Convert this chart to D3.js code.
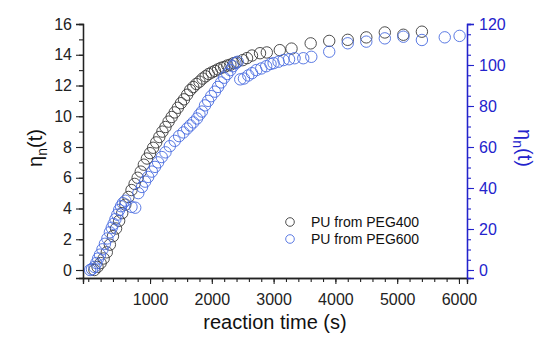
<!DOCTYPE html>
<html>
<head>
<meta charset="utf-8">
<script src="https://cdn.jsdelivr.net/npm/d3@7"></script>
<style>
  body { margin: 0; background: #fff; }
  svg { font-family: "Liberation Sans", Arial, sans-serif; }
</style>
</head>
<body>
<div id="chart"></div>
<script>
// PU from PEG400 (left axis)
const timeA = [100, 150, 200, 250, 300, 350, 400, 450, 500, 550, 600, 650, 700, 750, 800, 850, 900, 950,
  1000, 1050, 1100, 1150, 1200, 1250, 1300, 1350, 1400, 1450, 1500, 1550, 1600, 1650, 1700, 1750, 1800,
  1850, 1900, 1950, 2000, 2050, 2100, 2150, 2200, 2250, 2300, 2350, 2400, 2500, 2570, 2650, 2780, 2890,
  3100, 3290, 3600, 3900, 4200, 4500, 4800, 5100, 5400];
const valueA = [0.0, 0.2, 0.45, 0.75, 1.15, 1.65, 2.2, 2.7, 3.2, 3.7, 4.25, 4.75, 5.2, 5.6, 6.0, 6.4, 6.85, 7.25,
  7.6, 7.95, 8.3, 8.65, 9.0, 9.3, 9.65, 9.95, 10.25, 10.55, 10.85, 11.1, 11.4, 11.7, 11.9, 12.1, 12.25,
  12.45, 12.6, 12.75, 12.85, 12.95, 13.05, 13.15, 13.2, 13.3, 13.35, 13.45, 13.5, 13.65, 13.78, 13.95, 14.1, 14.15,
  14.3, 14.4, 14.74, 14.9, 14.97, 15.13, 15.45, 15.3, 15.5];

// PU from PEG600 (right axis)
const timeB = [30, 60, 100, 130, 160, 190, 230, 270, 310, 350, 380, 410, 440, 470, 500, 530, 560, 600,
  700, 760, 810, 870, 920, 970, 1030, 1080, 1130, 1190, 1250, 1320, 1400, 1470, 1540, 1600, 1650, 1700,
  1760, 1800, 1840, 1890, 1940, 1990, 2050, 2100, 2150, 2200, 2250, 2300, 2340, 2380, 2420, 2460, 2520,
  2590, 2650, 2720, 2800, 2880, 2950, 3000, 3080, 3160, 3250, 3340, 3480, 3610, 3900, 4200, 4500, 4800,
  5100, 5400, 5770, 6010];
const valueB = [0, 0.4, 1.5, 3.4, 5.6, 7.5, 10.1, 12.8, 15.4, 18.4, 20.6, 22.5, 24.8, 27, 29.3, 31.1, 32.6, 33.8,
  30.8, 30.4, 37.5, 40.5, 43.1, 45.4, 48, 50.3, 52.5, 55.1, 57.4, 60.4, 63, 65.3, 67.1, 69, 70.5, 72,
  73.9, 75.8, 77.3, 80.3, 82.5, 84.8, 87, 89.3, 91.5, 93.8, 95.6, 97.5, 99.4, 100.9, 101.6, 93, 93.4,
  94.9, 96, 97.5, 98.3, 99.4, 100.5, 100.9, 101.6, 102.4, 102.8, 103.3, 103.3, 104, 106.5, 110.6, 111.4, 113,
  113.8, 112.2, 113.5, 114.2];

const seriesNames = ['PU from PEG400', 'PU from PEG600'];
const xMajor = [1000, 2000, 3000, 4000, 5000, 6000];
const leftMajor = [0, 2, 4, 6, 8, 10, 12, 14, 16];
const rightMajor = [0, 20, 40, 60, 80, 100, 120];

const width = 550, height = 342;
const colA = '#3a3a3a', colB = '#4a6ce0', axisBlue = '#2323cc';

const svg = d3.select('#chart').append('svg')
  .attr('width', width)
  .attr('height', height);

// scales
const x = d3.scaleLinear().domain([-85, 6130]).range([83, 467]);
const yL = d3.scaleLinear().domain([-0.52, 16]).range([278, 24]);
const yR = d3.scaleLinear().domain([-3.9, 120]).range([278, 24]);

// minor ticks
const xMinor = d3.range(0, 6001, 200);
const leftMinor = d3.range(0, 17, 1);
const rightMinor = d3.range(0, 121, 5);

function styleAxis(g, color) {
  g.select('.domain').attr('stroke', color).attr('stroke-width', 1.3);
  g.selectAll('.tick line').attr('stroke', color).attr('stroke-width', 1.1);
  g.selectAll('.tick text').attr('fill', color).attr('font-size', 16)
    .attr('font-family', '"Liberation Sans", Arial, sans-serif');
}

// x axis
svg.append('g').attr('transform', 'translate(0,278)')
  .call(d3.axisBottom(x).tickValues(xMinor).tickSize(4).tickFormat(''))
  .call(g => styleAxis(g, '#222'));
svg.append('g').attr('transform', 'translate(0,278)')
  .call(d3.axisBottom(x).tickValues(xMajor).tickSize(6).tickPadding(10).tickFormat(d3.format('d')))
  .call(g => styleAxis(g, '#222'));

// left axis
svg.append('g').attr('transform', 'translate(83,0)')
  .call(d3.axisLeft(yL).tickValues(leftMinor).tickSize(4).tickFormat(''))
  .call(g => styleAxis(g, '#222'));
svg.append('g').attr('transform', 'translate(83,0)')
  .call(d3.axisLeft(yL).tickValues(leftMajor).tickSize(7).tickPadding(4).tickFormat(d3.format('d')))
  .call(g => styleAxis(g, '#222'));

// right axis
svg.append('g').attr('transform', 'translate(467,0)')
  .call(d3.axisRight(yR).tickValues(rightMinor).tickSize(4).tickFormat(''))
  .call(g => styleAxis(g, axisBlue));
svg.append('g').attr('transform', 'translate(467,0)')
  .call(d3.axisRight(yR).tickValues(rightMajor).tickSize(7).tickPadding(5).tickFormat(d3.format('d')))
  .call(g => styleAxis(g, axisBlue));

// data points
const dataA = timeA.map((t, i) => ({ t: t, v: valueA[i] }));
const dataB = timeB.map((t, i) => ({ t: t, v: valueB[i] }));

svg.append('g').selectAll('circle')
  .data(dataA).join('circle')
  .attr('cx', d => x(d.t)).attr('cy', d => yL(d.v)).attr('r', 5.7)
  .attr('fill', 'none').attr('stroke', colA).attr('stroke-width', 0.9);

svg.append('g').selectAll('circle')
  .data(dataB).join('circle')
  .attr('cx', d => x(d.t)).attr('cy', d => yR(d.v)).attr('r', 5.7)
  .attr('fill', 'none').attr('stroke', colB).attr('stroke-width', 0.9);

// axis titles
svg.append('text')
  .attr('x', 275).attr('y', 329)
  .attr('text-anchor', 'middle').attr('font-size', 20).attr('fill', '#111')
  .text('reaction time (s)');

function etaLabel(sel) {
  sel.append('tspan').text('η');
  sel.append('tspan').attr('font-size', 14).attr('dy', 5).text('n');
  sel.append('tspan').attr('dy', -5).text('(t)');
}

svg.append('text')
  .attr('transform', 'translate(42,148) rotate(-90)')
  .attr('text-anchor', 'middle').attr('font-size', 20).attr('fill', '#111')
  .call(etaLabel);

svg.append('text')
  .attr('transform', 'translate(518,148) rotate(90)')
  .attr('text-anchor', 'middle').attr('font-size', 20).attr('fill', axisBlue)
  .call(etaLabel);

// legend
const legend = svg.append('g');
[colA, colB].forEach((c, i) => {
  legend.append('circle')
    .attr('cx', 290).attr('cy', 222 + i * 17).attr('r', 4.3)
    .attr('fill', 'none').attr('stroke', c).attr('stroke-width', 0.9);
  legend.append('text')
    .attr('x', 311).attr('y', 227 + i * 17)
    .attr('font-size', 14).attr('fill', '#111')
    .text(seriesNames[i]);
});
</script>
</body>
</html>
